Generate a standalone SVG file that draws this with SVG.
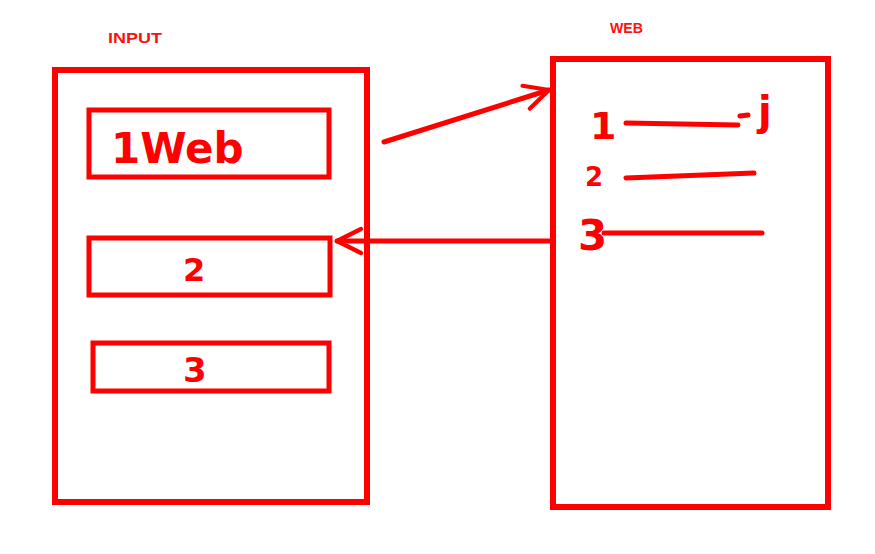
<svg xmlns="http://www.w3.org/2000/svg" width="875" height="554" viewBox="0 0 875 554">
<style>
.box{fill:none;stroke:#ff0000;stroke-width:6}
.sub{fill:none;stroke:#ff0000;stroke-width:5}
.ink{fill:none;stroke:#ff0000;stroke-width:5;stroke-linecap:round;stroke-linejoin:round}
.title{font-family:"Liberation Sans",Arial,sans-serif;font-weight:bold;font-size:15px;fill:#ff1010}
.hand{font-family:"DejaVu Sans",sans-serif;font-weight:bold;fill:#ff0000}
</style>
<defs>
<marker id="ah" viewBox="0 0 10 10" refX="9" refY="5" markerWidth="6" markerHeight="6" markerUnits="strokeWidth" orient="auto">
<path d="M1,1 L9,5 L1,9" fill="none" stroke="#ff0000" stroke-width="1.4" stroke-linecap="round" stroke-linejoin="round"/>
</marker>
</defs>
<rect width="875" height="554" fill="#ffffff"/>
<text class="title" x="108" y="43" textLength="54" lengthAdjust="spacingAndGlyphs">INPUT</text>
<text class="title" x="610" y="33" textLength="33" lengthAdjust="spacingAndGlyphs">WEB</text>
<g id="input">
<rect class="box" x="55" y="70" width="312" height="432"/>
</g>
<g id="box1">
<rect class="sub" x="89" y="110" width="240" height="67"/>
<text class="hand" x="111" y="163" font-size="42">1Web</text>
</g>
<g id="box2">
<rect class="sub" x="89" y="238" width="241" height="57"/>
<text class="hand" x="183" y="281" font-size="32">2</text>
</g>
<g id="box3">
<rect class="sub" x="93" y="343" width="236" height="48"/>
<text class="hand" x="183" y="382" font-size="34">3</text>
</g>
<g id="web">
<rect class="box" x="553" y="59" width="275" height="448"/>
<text class="hand" x="590" y="139" font-size="38">1</text>
<path class="ink" d="M626,123 L738,125"/>
<path class="ink" d="M740,116 L748,115"/>
<text class="hand" x="758" y="125" font-size="40">j</text>
<text class="hand" x="585" y="186" font-size="26">2</text>
<path class="ink" d="M626,178 L754,173"/>
<text class="hand" x="578" y="250" font-size="42">3</text>
<path class="ink" d="M604,233 L762,233"/>
</g>
<g id="connectors">
<path class="ink" d="M384,142 L549,90" marker-end="url(#ah)"/>
<path class="ink" d="M550,241 L337,241" marker-end="url(#ah)"/>
</g>
</svg>
